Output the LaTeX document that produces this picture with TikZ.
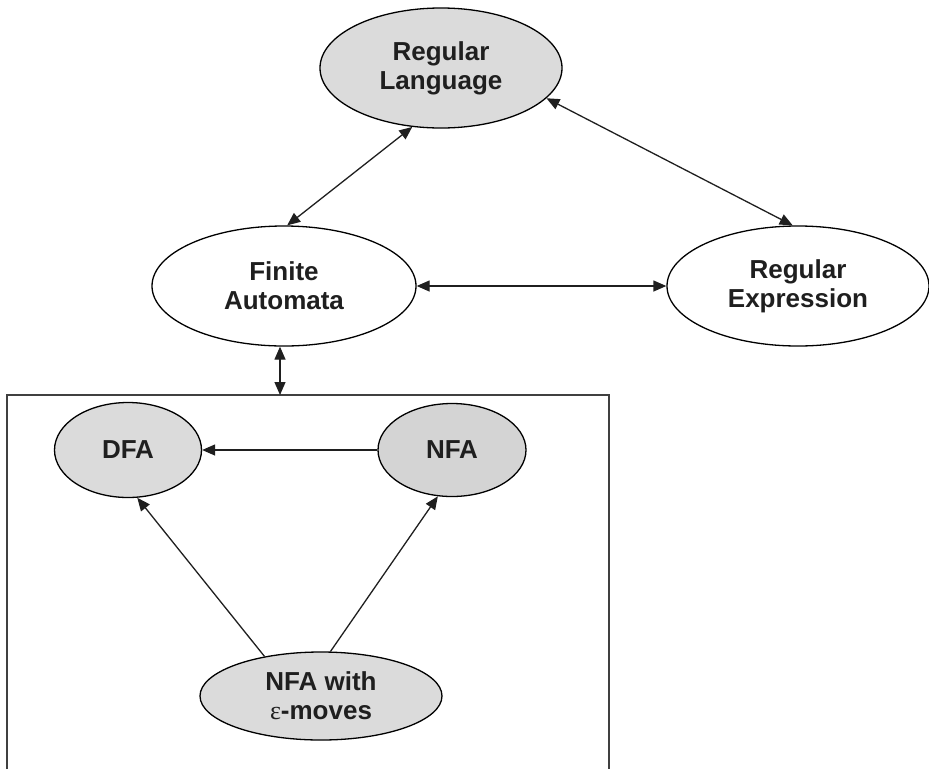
\documentclass[tikz,border=0pt]{standalone}
\usepackage{fontspec}
\setmainfont{Liberation Sans}
\newfontfamily\greekserif{Liberation Serif}
\usetikzlibrary{shapes.geometric,arrows.meta}
\tikzset{
  state/.style={ellipse, draw=black, line width=1.3pt, inner sep=0pt, align=center,
    font=\fontsize{26}{29}\selectfont\bfseries, text=black!88},
  grayfill/.style={fill=black!14},
  darkfill/.style={fill=black!17},
  conn/.style={line width=1.3pt, black!88, -{Triangle[length=13pt,width=11pt]}},
  biconn/.style={line width=1.3pt, black!88, {Triangle[length=13pt,width=11pt]}-{Triangle[length=13pt,width=11pt]}},
}
\begin{document}
\begin{tikzpicture}[x=1pt,y=-1pt]
\useasboundingbox (0,0) rectangle (929,769);
\node[state, grayfill, minimum width=242pt, minimum height=120pt] (RL) at (441,68) {Regular\\Language};
\node[state, fill=white, minimum width=264pt, minimum height=120pt] (FA) at (284,286) {Finite\\Automata};
\node[state, fill=white, minimum width=262pt, minimum height=120pt] (RE) at (798,286) {Regular\\Expression};
\node[state, grayfill, minimum width=147pt, minimum height=95pt] (DFA) at (128,450) {DFA};
\node[state, darkfill, minimum width=148pt, minimum height=93pt] (NFA) at (452,450) {NFA};
\node[state, grayfill, minimum width=242pt, minimum height=88pt] (EPS) at (321,696) {NFA with\\{\greekserif\mdseries ε}-moves};
\coordinate (boxtop) at (280,395);
\draw[line width=1.8pt, black!75] (7,769) -- (7,395) -- (609,395) -- (609,769);
\draw[biconn] (RL.-16) -- (RE.95);
\draw[biconn] (RL.244) -- (FA.87);
\draw[biconn] (FA.east) -- (RE.west);
\draw[biconn] (boxtop |- FA.south) -- (boxtop);
\draw[conn] (NFA.west) -- (DFA.east);
\draw[conn] (EPS.145) -- (DFA.-79);
\draw[conn] (EPS.78) -- (NFA.-107);
\end{tikzpicture}
\end{document}
